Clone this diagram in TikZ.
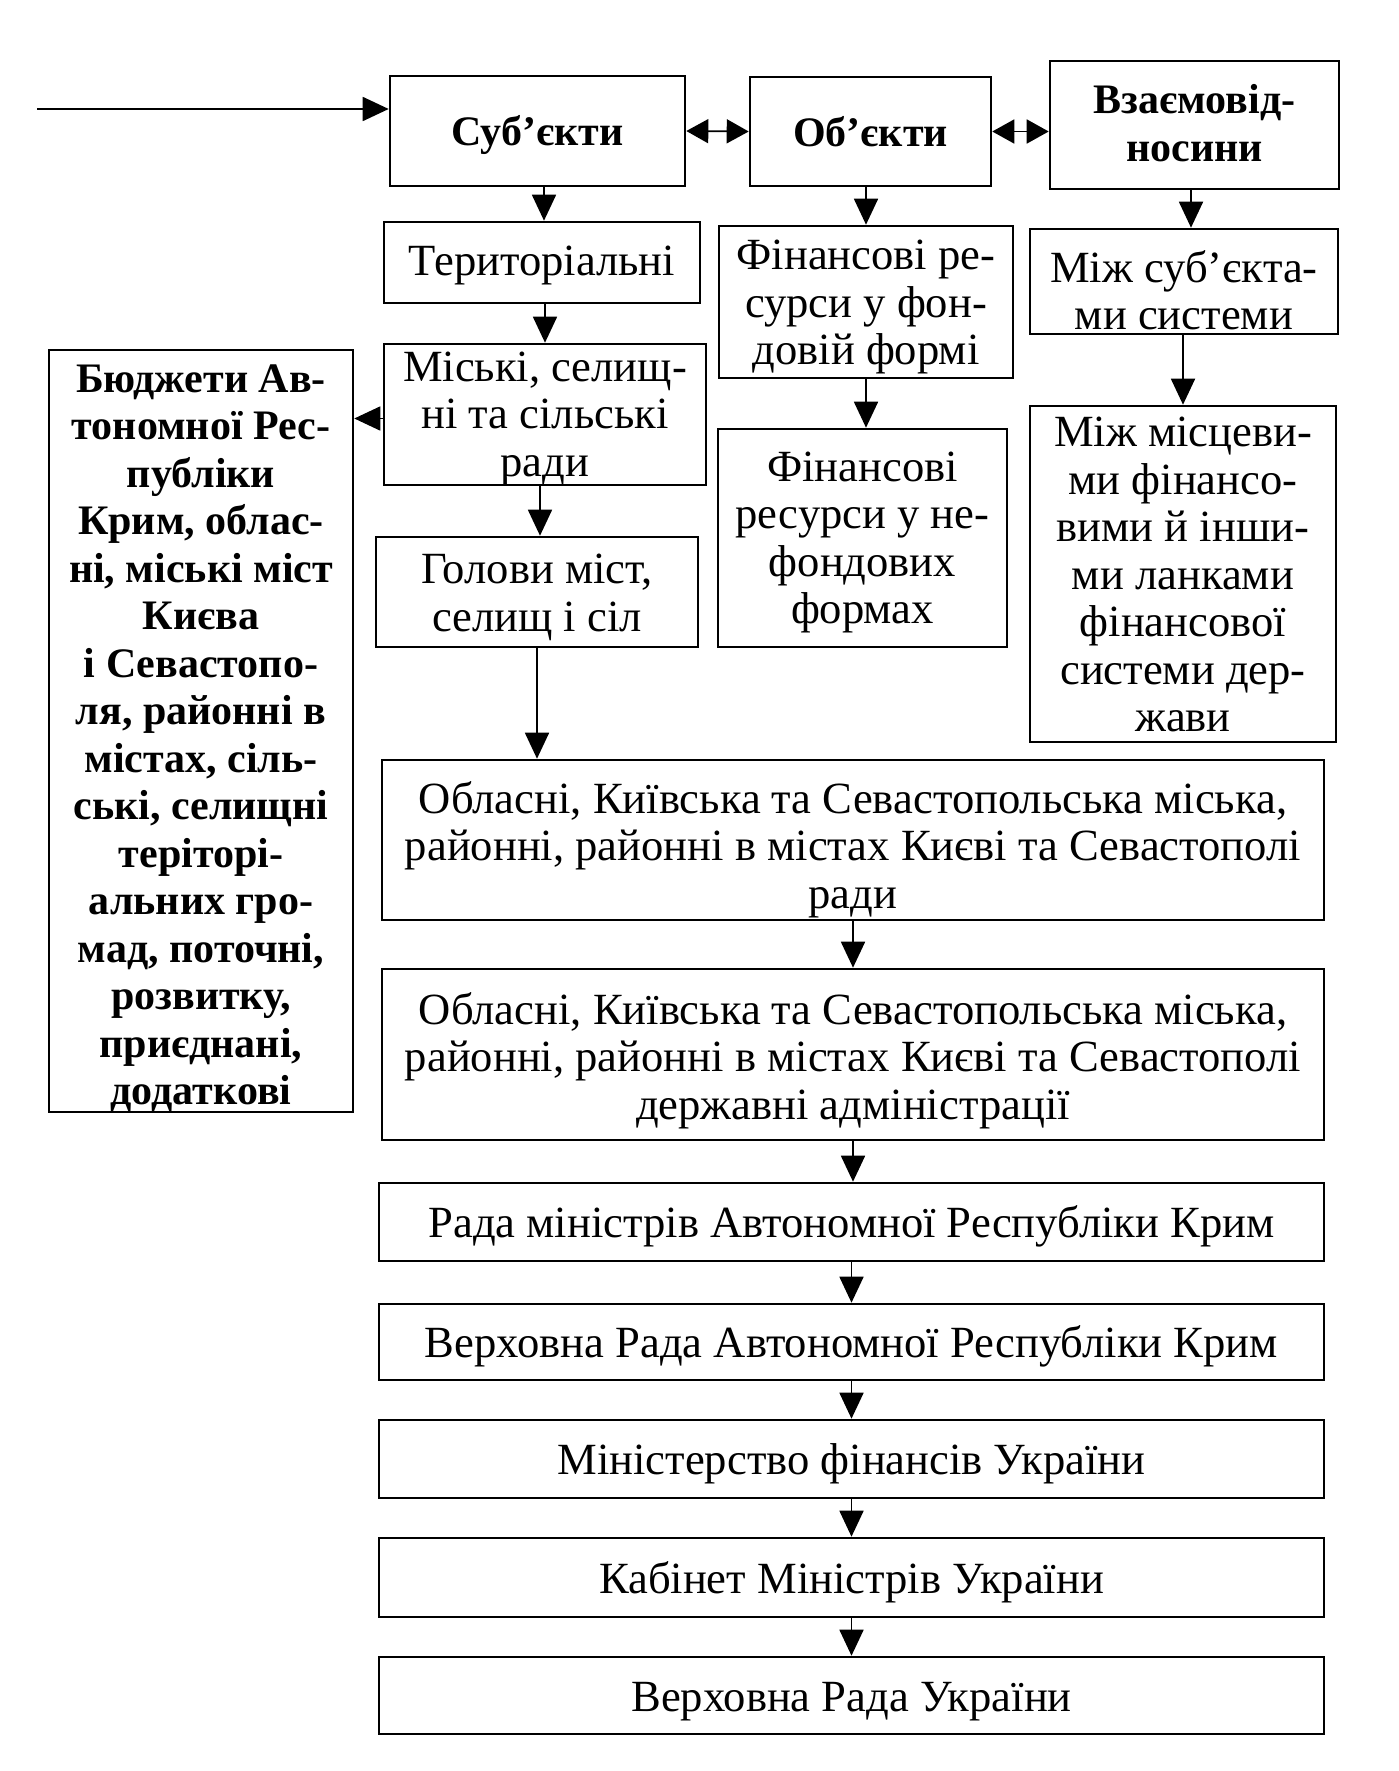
\documentclass[tikz,border=0pt]{standalone}
\usepackage{fontspec}
\setmainfont{Liberation Serif}
\usetikzlibrary{arrows.meta}
\newcommand{\boxtext}[2][1.5pt]{\raisebox{-\dimexpr#1+0.25em\relax}[0pt][0pt]{\begin{tabular}{@{}c@{}}#2\end{tabular}}}
\begin{document}
\begin{tikzpicture}[x=1pt,y=-1pt,
  box/.style={draw, line width=2.6pt, inner sep=0pt, align=center,
    font=\fontsize{44.6}{47.5}\selectfont},
  bbox/.style={box, font=\fontsize{42}{47.5}\selectfont\bfseries},
  arr/.style={line width=1.8pt, -{Triangle[length=26pt,width=24pt]}},
  darr/.style={line width=1.8pt, {Triangle[length=22pt,width=24pt]}-{Triangle[length=22pt,width=24pt]}}]
\useasboundingbox (0,0) rectangle (1399,1771);
\node[bbox, minimum width=295pt, minimum height=110pt] (subj) at (537.5,131) {\boxtext[1pt]{Суб’єкти}};
\node[bbox, minimum width=241pt, minimum height=109pt] (obj) at (870.5,131.5) {\boxtext[1pt]{Об’єкти}};
\node[bbox, minimum width=289pt, minimum height=128pt] (vzaem) at (1194.5,125) {\boxtext[-1.5pt]{Взаємовід-\\носини}};
\node[box, minimum width=316pt, minimum height=81pt] (terr) at (542,262.5) {\boxtext[-1pt]{Територіальні}};
\node[box, minimum width=294pt, minimum height=152pt] (finf) at (866,302) {\boxtext[1pt]{Фінансові ре-\\сурси у фон-\\довій формі}};
\node[box, minimum width=308pt, minimum height=105pt] (mizhs) at (1184,281.5) {\boxtext[10pt]{Між суб’єкта-\\ми системи}};
\node[box, minimum width=322pt, minimum height=141pt] (misk) at (545,414.5) {\boxtext[0pt]{Міські, селищ-\\ні та сільські\\ради}};
\node[bbox, minimum width=304pt, minimum height=762pt] (budg) at (201,731) {\boxtext[3.5pt]{Бюджети Ав-\\тономної Рес-\\публіки\\Крим, облас-\\ні, міські міст\\Києва\\і Севастопо-\\ля, районні в\\містах, сіль-\\ські, селищні\\теріторі-\\альних гро-\\мад, поточні,\\розвитку,\\приєднані,\\додаткові}};
\node[box, minimum width=322pt, minimum height=110pt] (golov) at (537,592) {\boxtext[1pt]{Голови міст,\\селищ і сіл}};
\node[box, minimum width=289pt, minimum height=218pt] (nefond) at (862.5,538) {\boxtext[0pt]{Фінансові\\ресурси у не-\\фондових\\формах}};
\node[box, minimum width=306pt, minimum height=336pt] (mizhm) at (1183,574) {\boxtext[1pt]{Між місцеви-\\ми фінансо-\\вими й інши-\\ми ланками\\фінансової\\системи дер-\\жави}};
\node[box, minimum width=942pt, minimum height=160pt] (obl1) at (853,840) {\boxtext[6.5pt]{Обласні, Київська та Севастопольська міська,\\районні, районні в містах Києві та Севастополі\\ради}};
\node[box, minimum width=942pt, minimum height=171pt] (obl2) at (853,1054.5) {\boxtext[3pt]{Обласні, Київська та Севастопольська міська,\\районні, районні в містах Києві та Севастополі\\державні адміністрації}};
\node[box, minimum width=945pt, minimum height=78pt] (rada) at (851.5,1222) {\boxtext{Рада міністрів Автономної Республіки Крим}};
\node[box, minimum width=945pt, minimum height=76pt] (vrark) at (851.5,1342) {\boxtext{Верховна Рада Автономної Республіки Крим}};
\node[box, minimum width=945pt, minimum height=78pt] (minfin) at (851.5,1459) {\boxtext{Міністерство фінансів України}};
\node[box, minimum width=945pt, minimum height=79pt] (kmu) at (851.5,1577.5) {\boxtext{Кабінет Міністрів України}};
\node[box, minimum width=945pt, minimum height=77pt] (vru) at (851.5,1695.5) {\boxtext{Верховна Рада України}};
\coordinate (in) at (37,109);
\draw[arr] (in) -- (in -| subj.west);
\draw[darr] (subj.east) -- (obj.west);
\draw[darr] (obj.east) -- (obj.east -| vzaem.west);
\draw[arr] ([xshift=6.5pt]subj.south) -- ([xshift=2pt]terr.north);
\draw[arr] (finf.north |- obj.south) -- (finf.north);
\draw[arr] ([xshift=-3.5pt]vzaem.south) -- ([xshift=7pt]mizhs.north);
\draw[arr] (misk.north |- terr.south) -- (misk.north);
\draw[arr] ([yshift=-4pt]misk.west) -- ([yshift=-4pt]misk.west -| budg.east);
\draw[arr] ([xshift=-5pt]misk.south) -- ([xshift=3pt]golov.north);
\draw[arr] (finf.south) -- (finf.south |- nefond.north);
\draw[arr] (mizhm.north |- mizhs.south) -- (mizhm.north);
\draw[arr] (golov.south) -- (golov.south |- obl1.north);
\draw[arr] (obl1.south) -- (obl1.south |- obl2.north);
\draw[arr] (obl2.south) -- (obl2.south |- rada.north);
\draw[arr] (rada.south) -- (rada.south |- vrark.north);
\draw[arr] (vrark.south) -- (vrark.south |- minfin.north);
\draw[arr] (minfin.south) -- (minfin.south |- kmu.north);
\draw[arr] (kmu.south) -- (kmu.south |- vru.north);
\end{tikzpicture}
\end{document}
